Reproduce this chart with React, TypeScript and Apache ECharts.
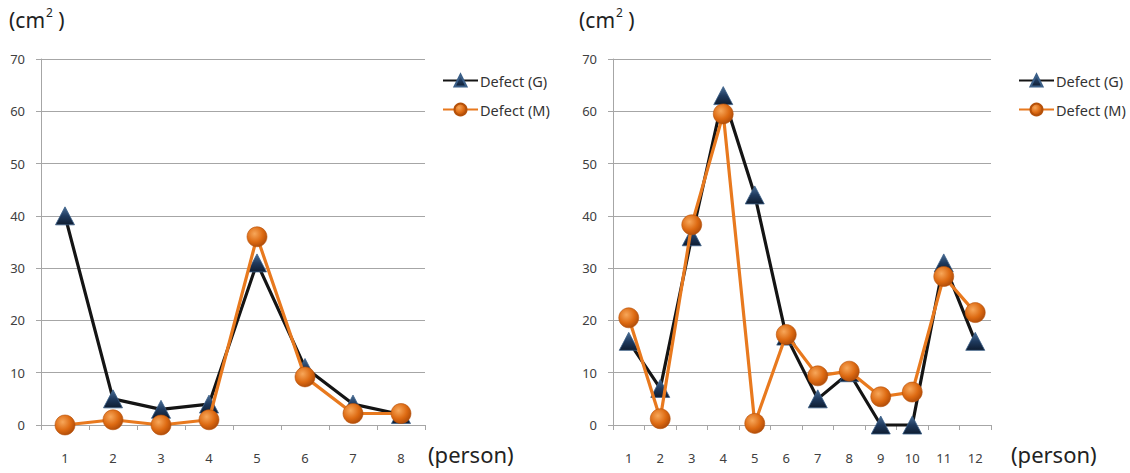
import React, { useEffect, useRef } from "react";
import * as echarts from "echarts";

const leftCategories = ["1", "2", "3", "4", "5", "6", "7", "8"];
const leftDefectG = [40, 5, 3, 4, 31, 11, 4, 2];
const leftDefectM = [0, 1, 0, 1, 36, 9.2, 2.2, 2.2];

const rightCategories = ["1", "2", "3", "4", "5", "6", "7", "8", "9", "10", "11", "12"];
const rightDefectG = [16, 7, 36, 63, 44, 17, 5, 10, 0, 0, 31, 16];
const rightDefectM = [20.5, 1.2, 38.3, 59.5, 0.3, 17.3, 9.4, 10.3, 5.4, 6.3, 28.4, 21.5];

const yTicks = { min: 0, max: 70, interval: 10 };
const seriesNames = ["Defect (G)", "Defect (M)"];

const FONT = "'Noto Sans', 'Open Sans', sans-serif";
const GRID_COLOR = "#A6A6A6";
const LABEL_COLOR = "#404040";
const ORANGE = "#E8791E";
const BLACK = "#141414";

const ballColor = new echarts.graphic.RadialGradient(0.38, 0.35, 0.75, [
  { offset: 0, color: "#F7A75A" },
  { offset: 0.55, color: "#DD6A12" },
  { offset: 1, color: "#A44406" },
]);
const triColor = new echarts.graphic.LinearGradient(0, 0, 0, 1, [
  { offset: 0, color: "#4A6E96" },
  { offset: 0.5, color: "#1F3A5E" },
  { offset: 1, color: "#0E1C30" },
]);

export default function App() {
  const ref = useRef<HTMLDivElement>(null);

  useEffect(() => {
    if (!ref.current) return;
    const chart = echarts.init(ref.current, null, { renderer: "svg" });

    const grids = [
      { left: 41, top: 59, width: 384, height: 366 },
      { left: 613, top: 59, width: 378, height: 366 },
    ];

    const xAxisBase = (cats: string[], gi: number) => ({
      type: "category",
      gridIndex: gi,
      data: cats,
      boundaryGap: true,
      axisLine: { show: true, lineStyle: { color: GRID_COLOR, width: 1 } },
      axisTick: { show: true, length: 5, alignWithLabel: false, lineStyle: { color: GRID_COLOR } },
      axisLabel: { color: LABEL_COLOR, fontSize: 13, fontFamily: FONT, margin: 26 },
      splitLine: { show: false },
    });

    const yAxisBase = (gi: number) => ({
      type: "value",
      gridIndex: gi,
      min: yTicks.min,
      max: yTicks.max,
      interval: yTicks.interval,
      axisLine: { show: true, lineStyle: { color: GRID_COLOR, width: 1 } },
      axisTick: { show: true, length: 5, lineStyle: { color: GRID_COLOR } },
      axisLabel: { color: LABEL_COLOR, fontSize: 13, fontFamily: FONT, margin: 16 },
      splitLine: { show: true, lineStyle: { color: GRID_COLOR, width: 1 } },
    });

    const gSeries = (data: number[], idx: number) => ({
      name: seriesNames[0],
      type: "line",
      xAxisIndex: idx,
      yAxisIndex: idx,
      data,
      clip: false,
      symbol: "triangle",
      symbolSize: [19, 18],
      lineStyle: { color: BLACK, width: 3.2 },
      itemStyle: { color: triColor, borderColor: "#3B5F88", borderWidth: 0.8 },
      z: 2,
    });
    const mSeries = (data: number[], idx: number) => ({
      name: seriesNames[1],
      type: "line",
      xAxisIndex: idx,
      yAxisIndex: idx,
      data,
      clip: false,
      symbol: "circle",
      symbolSize: 20,
      lineStyle: { color: ORANGE, width: 3.2 },
      itemStyle: { color: ballColor, borderColor: "#B5510A", borderWidth: 0.6 },
      z: 3,
    });

    const legendBase = (left: number) => ({
      orient: "vertical",
      left,
      top: 68,
      itemWidth: 35,
      itemHeight: 15,
      itemGap: 14,
      selectedMode: false,
      data: seriesNames,
      textStyle: { color: "#333", fontSize: 14.5, fontFamily: FONT, padding: [0, 0, 0, -3] },
    });

    const unitText = (x: number) => ({
      type: "text",
      left: x,
      top: 6,
      style: {
        text: "{a|(cm}{s|2}{a| )}",
        rich: {
          a: { fontSize: 21, fontFamily: FONT, fill: "#222", lineHeight: 28 },
          s: { fontSize: 12, fontFamily: FONT, fill: "#222", verticalAlign: "top", lineHeight: 20, padding: [0, 0, 11, 1] },
        },
      },
    });
    const personText = (x: number) => ({
      type: "text",
      left: x,
      top: 443,
      style: { text: "(person)", fontSize: 22, fontFamily: FONT, fill: "#222" },
    });

    chart.setOption({
      animation: false,
      backgroundColor: "#ffffff",
      grid: grids,
      xAxis: [xAxisBase(leftCategories, 0), xAxisBase(rightCategories, 1)],
      yAxis: [yAxisBase(0), yAxisBase(1)],
      legend: [legendBase(437), legendBase(1013)],
      series: [
        gSeries(leftDefectG, 0),
        mSeries(leftDefectM, 0),
        gSeries(rightDefectG, 1),
        mSeries(rightDefectM, 1),
      ],
      graphic: [unitText(9), unitText(579), personText(428), personText(1011)],
    });

    return () => chart.dispose();
  }, []);

  return (
    <div
      ref={ref}
      style={{ position: "absolute", left: 0, top: 0, width: 1130, height: 473 }}
    />
  );
}
